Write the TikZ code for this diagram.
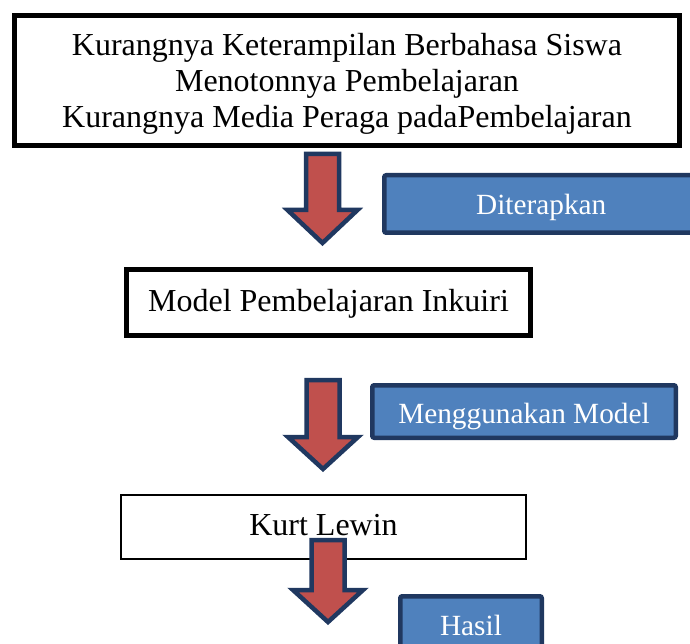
\documentclass[tikz,border=0pt]{standalone}
\usepackage{fontspec}
\setmainfont{Liberation Serif}
\definecolor{birutua}{RGB}{32,56,96}
\definecolor{biru}{RGB}{79,129,189}
\definecolor{merah}{RGB}{192,80,77}

\begin{document}
\begin{tikzpicture}[x=1pt,y=-1pt,
    kotak/.style={draw=black,fill=white,inner sep=0pt,align=center,
      font=\fontsize{32}{36}\selectfont},
    keterangan/.style={draw=birutua,fill=biru,line width=4.5pt,rounded corners=2pt,
      inner sep=0pt,text=white,font=\fontsize{29.3}{33}\selectfont},
    panah/.style={draw=birutua,fill=merah,line width=4.5pt,line join=miter}]
    \useasboundingbox (0,0) rectangle (690,644);

    \node[kotak,line width=5pt,minimum width=665pt,minimum height=130pt,
      text height=95pt,text depth=0pt] (masalah) at (347,80.5)
      {Kurangnya Keterampilan Berbahasa Siswa\\
       Menotonnya Pembelajaran\\
       Kurangnya Media Peraga padaPembelajaran};
    \node[kotak,line width=5pt,minimum width=404pt,minimum height=66pt,
      text height=21pt,text depth=4pt] (model) at (328.5,302.5)
      {Model Pembelajaran Inkuiri};
    \node[kotak,line width=2pt,minimum width=405pt,minimum height=64pt,
      text height=21pt,text depth=5pt] (lewin) at (323.5,527)
      {Kurt Lewin};

    \node[keterangan,minimum width=314pt,minimum height=57.5pt,
      text height=22pt,text depth=0pt] (diterapkan) at (541.25,204) {Diterapkan};
    \node[keterangan,minimum width=303.5pt,minimum height=52.5pt,
      text height=23pt,text depth=0pt] (menggunakan) at (524,411.5) {Menggunakan Model};
    \node[keterangan,minimum width=141.5pt,minimum height=57pt,
      text height=20.5pt,text depth=0pt] (hasil) at (471,624.75) {Hasil};

    % panah ke bawah
    \foreach \cx/\atas/\bahu/\ujung in {322.5/154/210/243, 323/380/437/469, 328/540/590/622}
      \draw[panah] (\cx-16.5,\atas) -- (\cx+16.5,\atas) -- (\cx+16.5,\bahu)
        -- (\cx+35,\bahu) -- (\cx,\ujung) -- (\cx-35,\bahu) -- (\cx-16.5,\bahu) -- cycle;

\end{tikzpicture}
\end{document}
